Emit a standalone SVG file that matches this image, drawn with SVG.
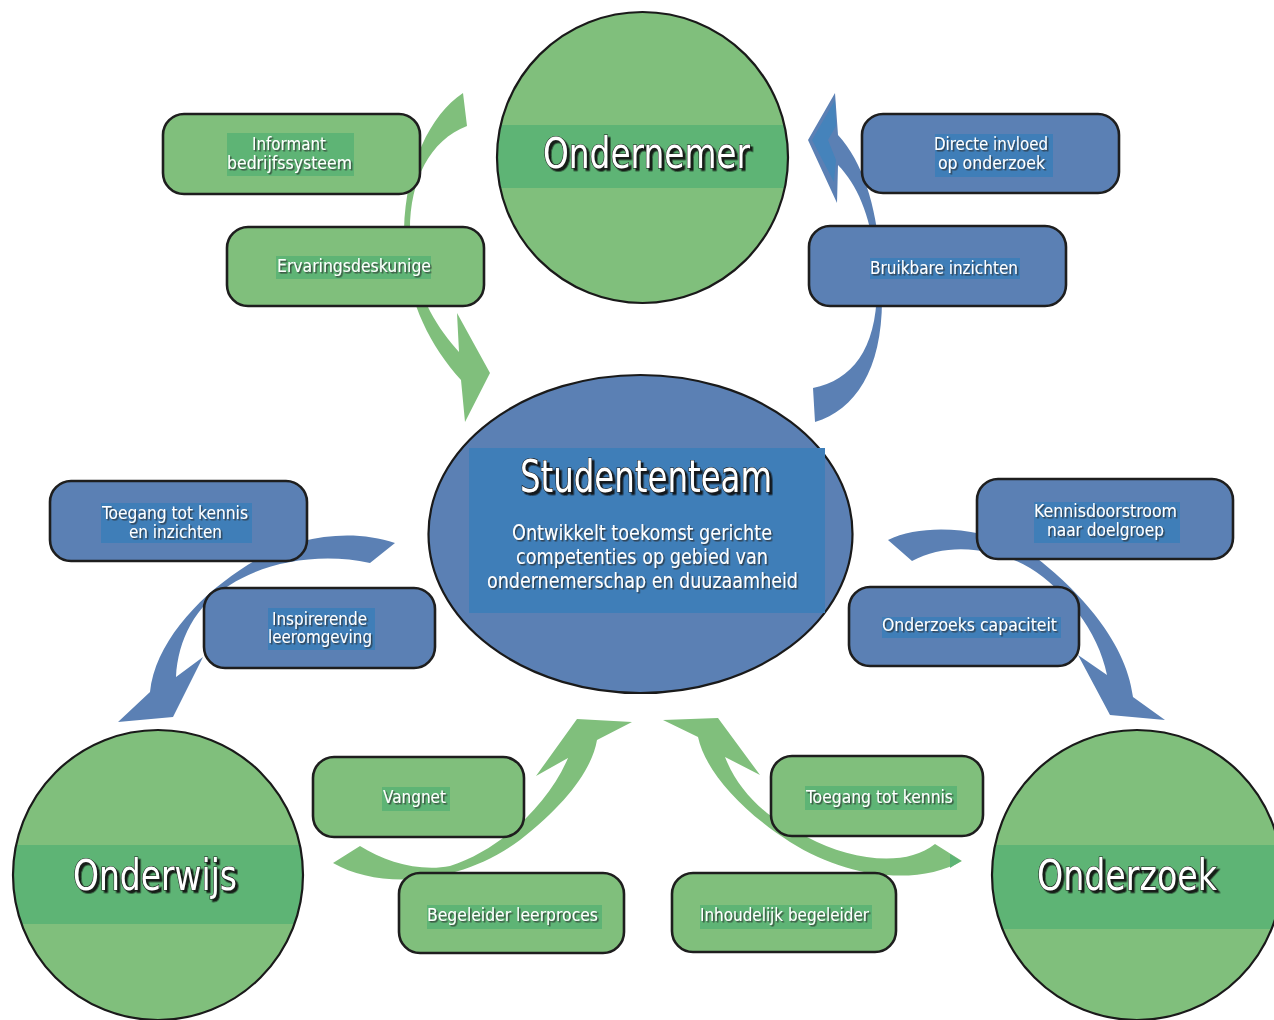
<svg xmlns="http://www.w3.org/2000/svg" width="1274" height="1020" viewBox="0 0 1274 1020">
  <defs>
    <style>
      .box-g { fill: #80bf7c; stroke: #1e1e1e; stroke-width: 2.6; }
      .box-b { fill: #5b80b4; stroke: #1e1e1e; stroke-width: 2.6; }
      .band-g { fill: #5eb475; }
      .band-b { fill: #3f7eb8; }
      .arrow-g { fill: #80bf7c; }
      .arrow-b { fill: #5b80b4; }
      .disc { fill: #80bf7c; }
      .ring { fill: none; stroke: #1a1a1a; stroke-width: 2.2; }
      .lbl { font-family: 'Liberation Sans Narrow', 'DejaVu Sans Condensed', 'Liberation Sans', sans-serif; font-stretch: condensed; font-size: 18px; fill: #ffffff; text-anchor: middle; filter: url(#shadow); }
      .desc { font-size: 21px; }
      .title { font-family: 'Liberation Sans Narrow', 'DejaVu Sans Condensed', 'Liberation Sans', sans-serif; font-stretch: condensed; fill: #ffffff; text-anchor: middle; stroke: #1a1a1a; stroke-width: 1.2; paint-order: stroke; filter: url(#shadowBig); }
    </style>
    <filter id="shadow" x="-10%" y="-30%" width="130%" height="160%">
      <feDropShadow dx="1.5" dy="1.5" stdDeviation="0.6" flood-color="#2a2a2a" flood-opacity="0.75"/>
    </filter>
    <filter id="shadowBig" x="-10%" y="-30%" width="130%" height="160%">
      <feDropShadow dx="2.5" dy="2.5" stdDeviation="0.5" flood-color="#111111" flood-opacity="0.9"/>
    </filter>
    <clipPath id="clipTop"><circle cx="642.5" cy="157.5" r="145.5"/></clipPath>
    <clipPath id="clipLeft"><circle cx="158" cy="875" r="145"/></clipPath>
    <clipPath id="clipRight"><circle cx="1137" cy="875" r="145"/></clipPath>
  </defs>

  <!-- curved arrows -->
  <g id="connectors">
    <!-- Ondernemer -> Studententeam -->
    <path class="arrow-g" d="M463,93 C430,115 406,165 404,230 C403,290 425,340 461,380 L465,422 L490,373 L457,313 L459,352 C435,325 412,290 410,230 C410,180 430,140 467,126 Z"/>
    <!-- Studententeam -> Ondernemer -->
    <path class="arrow-b" d="M815,422 C855,410 882,370 882,300 C882,230 870,170 838,135 L835,93 L808,140 L837,203 L838,165 C862,190 876,230 877,290 C876,350 852,380 813,388 Z"/>
    <path fill="#4583bb" d="M835,100 L812,140 L834,182 L836,160 L828,140 L836,126 Z"/>
    <!-- Studententeam -> Onderwijs -->
    <path class="arrow-b" d="M395,543 C350,528 290,535 240,570 C195,600 155,645 150,692 L118,722 L173,717 L203,657 L176,677 C178,640 195,605 230,585 C265,562 320,552 370,563 Z"/>
    <!-- Studententeam -> Onderzoek -->
    <path class="arrow-b" d="M888,540 C925,522 990,528 1030,553 C1072,584 1126,638 1133,697 L1165,720 L1110,715 L1078,655 L1107,675 C1098,630 1065,590 1030,568 C1000,550 950,540 912,561 Z"/>
    <!-- Onderwijs -> Studententeam -->
    <path class="arrow-g" d="M333,863 C380,890 460,885 520,840 C565,805 592,770 597,740 L632,722 L577,719 L536,776 L568,758 C548,805 500,850 450,866 C420,872 385,862 360,846 Z"/>
    <!-- Onderzoek -> Studententeam -->
    <path class="arrow-g" d="M962,861 C920,885 850,880 790,842 C740,810 705,770 698,737 L663,720 L718,718 L760,775 L725,757 C740,795 770,820 807,837 C850,860 905,868 935,844 Z"/>
    <path fill="#5eb475" d="M950,854 L961,861 L950,868 Z"/>
  </g>

  <!-- partner circles -->
  <g id="ondernemer">
    <circle class="disc" cx="642.5" cy="157.5" r="145.5"/>
    <rect class="band-g" x="490" y="125" width="310" height="63" clip-path="url(#clipTop)"/>
    <circle class="ring" cx="642.5" cy="157.5" r="145.5"/>
    <text class="title" x="646.5" y="168" font-size="42" textLength="207" lengthAdjust="spacingAndGlyphs">Ondernemer</text>
  </g>

  <g id="onderwijs">
    <circle class="disc" cx="158" cy="875" r="145"/>
    <rect class="band-g" x="5" y="845" width="310" height="79" clip-path="url(#clipLeft)"/>
    <circle class="ring" cx="158" cy="875" r="145"/>
    <text class="title" x="155" y="890" font-size="42" textLength="164" lengthAdjust="spacingAndGlyphs">Onderwijs</text>
  </g>

  <g id="onderzoek">
    <circle class="disc" cx="1137" cy="875" r="145"/>
    <rect class="band-g" x="985" y="845" width="300" height="84" clip-path="url(#clipRight)"/>
    <circle class="ring" cx="1137" cy="875" r="145"/>
    <text class="title" x="1127" y="890" font-size="42" textLength="180" lengthAdjust="spacingAndGlyphs">Onderzoek</text>
  </g>

  <!-- central team -->
  <g id="studententeam">
    <ellipse cx="640.5" cy="534" rx="212" ry="159" fill="#5b80b4" stroke="#1a1a1a" stroke-width="2.2"/>
    <rect class="band-b" x="469" y="448" width="356" height="165"/>
    <text class="title" x="646" y="492" font-size="44" textLength="252" lengthAdjust="spacingAndGlyphs">Studententeam</text>
    <text class="lbl desc" x="642" y="540" textLength="260" lengthAdjust="spacingAndGlyphs">Ontwikkelt toekomst gerichte</text>
    <text class="lbl desc" x="642" y="564" textLength="252" lengthAdjust="spacingAndGlyphs">competenties op gebied van</text>
    <text class="lbl desc" x="642.5" y="588" textLength="311" lengthAdjust="spacingAndGlyphs">ondernemerschap en duuzaamheid</text>
  </g>

  <!-- role boxes around Ondernemer -->
  <g id="informant">
    <rect class="box-g" x="163" y="114" width="257" height="80" rx="21"/>
    <rect class="band-g" x="227" y="133" width="127" height="43"/>
    <text class="lbl" x="289" y="149.5" textLength="74" lengthAdjust="spacingAndGlyphs">Informant</text>
    <text class="lbl" x="289.5" y="168.5" textLength="125" lengthAdjust="spacingAndGlyphs">bedrijfssysteem</text>
  </g>

  <g id="ervaringsdeskunige">
    <rect class="box-g" x="227" y="227" width="257" height="79" rx="21"/>
    <rect class="band-g" x="276" y="256" width="155" height="23"/>
    <text class="lbl" x="354" y="271.5" textLength="154" lengthAdjust="spacingAndGlyphs">Ervaringsdeskunige</text>
  </g>

  <g id="directe-invloed">
    <rect class="box-b" x="862" y="114" width="257" height="79" rx="21"/>
    <rect class="band-b" x="935" y="134" width="118" height="43"/>
    <text class="lbl" x="991" y="149.5" textLength="114" lengthAdjust="spacingAndGlyphs">Directe invloed</text>
    <text class="lbl" x="991.5" y="168.5" textLength="107" lengthAdjust="spacingAndGlyphs">op onderzoek</text>
  </g>

  <g id="bruikbare-inzichten">
    <rect class="box-b" x="809" y="226" width="257" height="80" rx="21"/>
    <rect class="band-b" x="870" y="258" width="150" height="21"/>
    <text class="lbl" x="944" y="274" textLength="148" lengthAdjust="spacingAndGlyphs">Bruikbare inzichten</text>
  </g>

  <!-- role boxes around Onderwijs -->
  <g id="toegang-inzichten">
    <rect class="box-b" x="50" y="481" width="257" height="80" rx="21"/>
    <rect class="band-b" x="101" y="503" width="151" height="40"/>
    <text class="lbl" x="175" y="519" textLength="146" lengthAdjust="spacingAndGlyphs">Toegang tot kennis</text>
    <text class="lbl" x="175.5" y="538" textLength="93" lengthAdjust="spacingAndGlyphs">en inzichten</text>
  </g>

  <g id="inspirerende-leeromgeving">
    <rect class="box-b" x="204" y="588" width="231" height="80" rx="21"/>
    <rect class="band-b" x="268" y="608" width="107" height="42"/>
    <text class="lbl" x="319.5" y="624.5" textLength="95" lengthAdjust="spacingAndGlyphs">Inspirerende</text>
    <text class="lbl" x="320" y="643" textLength="104" lengthAdjust="spacingAndGlyphs">leeromgeving</text>
  </g>

  <!-- role boxes around Onderzoek -->
  <g id="kennisdoorstroom">
    <rect class="box-b" x="977" y="479" width="256" height="80" rx="21"/>
    <rect class="band-b" x="1034" y="502" width="146" height="41"/>
    <text class="lbl" x="1105.5" y="516.5" textLength="143" lengthAdjust="spacingAndGlyphs">Kennisdoorstroom</text>
    <text class="lbl" x="1105.5" y="535.5" textLength="117" lengthAdjust="spacingAndGlyphs">naar doelgroep</text>
  </g>

  <g id="onderzoeks-capaciteit">
    <rect class="box-b" x="849" y="587" width="230" height="79" rx="21"/>
    <rect class="band-b" x="882" y="617" width="179" height="21"/>
    <text class="lbl" x="969.5" y="630.5" textLength="175" lengthAdjust="spacingAndGlyphs">Onderzoeks capaciteit</text>
  </g>

  <!-- role boxes below the team -->
  <g id="vangnet">
    <rect class="box-g" x="313" y="757" width="211" height="80" rx="21"/>
    <rect class="band-g" x="382" y="787" width="68" height="24"/>
    <text class="lbl" x="414.5" y="803" textLength="63" lengthAdjust="spacingAndGlyphs">Vangnet</text>
  </g>

  <g id="begeleider-leerproces">
    <rect class="box-g" x="399" y="873" width="225" height="80" rx="21"/>
    <rect class="band-g" x="427" y="905" width="175" height="24"/>
    <text class="lbl" x="512.5" y="920.5" textLength="171" lengthAdjust="spacingAndGlyphs">Begeleider leerproces</text>
  </g>

  <g id="toegang-kennis">
    <rect class="box-g" x="771" y="756" width="212" height="80" rx="21"/>
    <rect class="band-g" x="805" y="786" width="152" height="24"/>
    <text class="lbl" x="879.5" y="802.5" textLength="147" lengthAdjust="spacingAndGlyphs">Toegang tot kennis</text>
  </g>

  <g id="inhoudelijk-begeleider">
    <rect class="box-g" x="672" y="873" width="224" height="79" rx="21"/>
    <rect class="band-g" x="700" y="905" width="172" height="24"/>
    <text class="lbl" x="784.5" y="921" textLength="169" lengthAdjust="spacingAndGlyphs">Inhoudelijk begeleider</text>
  </g>
</svg>
